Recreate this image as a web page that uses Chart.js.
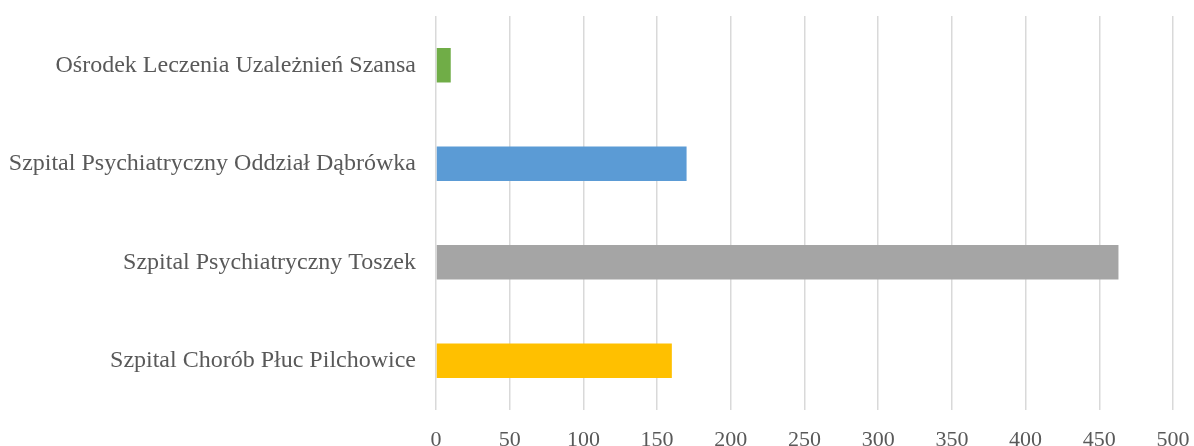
<!DOCTYPE html>
<html>
<head>
<meta charset="utf-8">
<script src="https://cdn.jsdelivr.net/npm/chart.js@4.4.1/dist/chart.umd.min.js"></script>
<style>
    html, body { margin: 0; padding: 0; background: #fff; }
    #wrap { width: 1194px; height: 446px; }
</style>
</head>
<body>
<div id="wrap"><canvas id="hospitalChart"></canvas></div>
<script>
const categories = [
    'Ośrodek Leczenia Uzależnień Szansa',
    'Szpital Psychiatryczny Oddział Dąbrówka',
    'Szpital Psychiatryczny Toszek',
    'Szpital Chorób Płuc Pilchowice'
];
const values = [10, 170, 463, 160];
const barColors = ['#70ad47', '#5b9bd5', '#a5a5a5', '#ffc000'];
const xTicks = [0, 50, 100, 150, 200, 250, 300, 350, 400, 450, 500];

const FONT = "'Liberation Serif', 'Times New Roman', serif";
const TEXT_COLOR = '#595959';

const ctx = document.getElementById('hospitalChart');
new Chart(ctx, {
    type: 'bar',
    data: {
        labels: categories,
        datasets: [{
            data: values,
            backgroundColor: barColors,
            borderWidth: 0,
            categoryPercentage: 1,
            barPercentage: 0.35
        }]
    },
    options: {
        indexAxis: 'y',
        responsive: true,
        maintainAspectRatio: false,
        animation: false,
        layout: { padding: { top: 16, right: 21, left: 0, bottom: 0 } },
        plugins: {
            legend: { display: false },
            tooltip: { enabled: false }
        },
        scales: {
            x: {
                min: 0,
                max: 500,
                afterBuildTicks(scale) {
                    scale.ticks = xTicks.map(v => ({ value: v }));
                },
                afterFit(scale) {
                    scale.height = 36;
                    scale.paddingLeft = 0;
                    scale.paddingRight = 0;
                },
                border: { display: false },
                grid: { color: '#d9d9d9', lineWidth: 1.5, drawTicks: false },
                ticks: {
                    padding: 17,
                    color: TEXT_COLOR,
                    font: { family: FONT, size: 22 }
                }
            },
            y: {
                afterFit(scale) {
                    scale.width = 436;
                    scale.paddingTop = 0;
                    scale.paddingBottom = 0;
                },
                border: { display: false },
                grid: { display: false, drawTicks: false },
                ticks: {
                    padding: 20,
                    color: TEXT_COLOR,
                    font: { family: FONT, size: 24 }
                }
            }
        }
    }
});
</script>
</body>
</html>
